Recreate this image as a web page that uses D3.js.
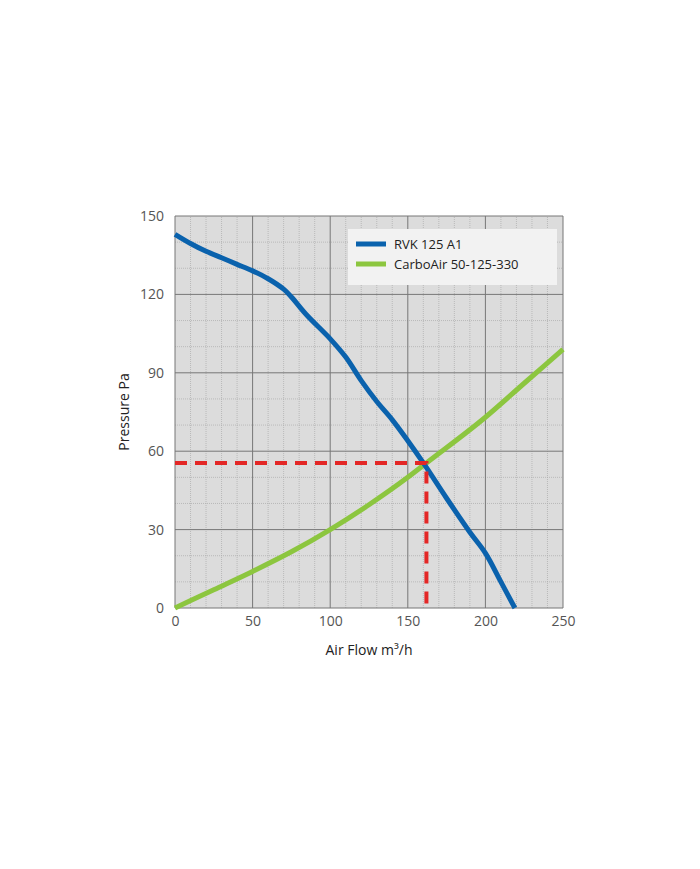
<!DOCTYPE html>
<html><head><meta charset="utf-8">
<script src="https://cdn.jsdelivr.net/npm/d3@7"></script>
<style>body{margin:0;background:#fff;font-family:"Open Sans",sans-serif;}</style>
</head><body>
<div id="chart"></div>
<script>
var blueX = [0, 10, 20, 30, 40, 50, 60, 70, 75, 85, 100, 110, 120, 130, 140, 150, 160, 175, 190, 200, 210, 219];
var blueY = [143, 139.5, 136.5, 134, 131.5, 129, 126, 122, 119, 112, 103, 96, 87, 79, 72, 64, 55.5, 42, 29, 21, 10, 0];
var greenX = [0, 25, 50, 75, 100, 125, 150, 162, 200, 225, 250];
var greenY = [0, 7, 14, 21.5, 30, 39.5, 50, 55.5, 73, 86, 99];
var opX = 162, opY = 55.5;
var xTicks = [0, 50, 100, 150, 200, 250];
var yTicks = [0, 30, 60, 90, 120, 150];
var seriesNames = ["RVK 125 A1", "CarboAir 50-125-330"];
var colors = ["#0a62ad", "#8cc63f"];

var svg = d3.select("#chart").append("svg").attr("width", 700).attr("height", 869);
var x = d3.scaleLinear().domain([0, 250]).range([175, 563]);
var y = d3.scaleLinear().domain([0, 150]).range([608, 216]);

svg.append("rect").attr("x", x(0)).attr("y", y(150))
    .attr("width", x(250) - x(0)).attr("height", y(0) - y(150)).attr("fill", "#dcdcdc");

var g = svg.append("g");
d3.range(0, 251, 10).forEach(function (v) {
    if (v % 50) g.append("line").attr("x1", x(v)).attr("x2", x(v)).attr("y1", y(0)).attr("y2", y(150))
        .attr("stroke", "#aaa").attr("stroke-width", 0.7).attr("stroke-dasharray", "1,1");
});
d3.range(0, 151, 10).forEach(function (v) {
    if (v % 30) g.append("line").attr("y1", y(v)).attr("y2", y(v)).attr("x1", x(0)).attr("x2", x(250))
        .attr("stroke", "#aaa").attr("stroke-width", 0.7).attr("stroke-dasharray", "1,1");
});
xTicks.forEach(function (v) {
    g.append("line").attr("x1", x(v)).attr("x2", x(v)).attr("y1", y(0)).attr("y2", y(150))
        .attr("stroke", "#777").attr("stroke-width", 1);
});
yTicks.forEach(function (v) {
    g.append("line").attr("y1", y(v)).attr("y2", y(v)).attr("x1", x(0)).attr("x2", x(250))
        .attr("stroke", "#777").attr("stroke-width", 1);
});

var xAxis = svg.append("g").attr("transform", "translate(0," + (y(0) + 5) + ")")
    .call(d3.axisBottom(x).tickValues(xTicks).tickSize(0));
var yAxis = svg.append("g").attr("transform", "translate(" + (x(0) - 8) + ",0)")
    .call(d3.axisLeft(y).tickValues(yTicks).tickSize(0));
[xAxis, yAxis].forEach(function (a) {
    a.select(".domain").remove();
    a.selectAll("text").attr("font-size", 14).attr("fill", "#555").attr("font-family", "Open Sans, sans-serif");
});

svg.append("text").attr("x", (x(0) + x(250)) / 2).attr("y", 655).attr("text-anchor", "middle")
    .attr("font-size", 14).attr("fill", "#222").text("Air Flow m³/h");
svg.append("text").attr("transform", "translate(129," + ((y(0) + y(150)) / 2) + ") rotate(-90)")
    .attr("text-anchor", "middle").attr("font-size", 14).attr("fill", "#222").text("Pressure Pa");

var line = d3.line().curve(d3.curveMonotoneX);
svg.append("path").attr("d", line(greenX.map(function (d, i) { return [x(d), y(greenY[i])]; })))
    .attr("fill", "none").attr("stroke", colors[1]).attr("stroke-width", 5);
svg.append("path").attr("d", d3.line().curve(d3.curveCatmullRom)(blueX.map(function (d, i) { return [x(d), y(blueY[i])]; })))
    .attr("fill", "none").attr("stroke", colors[0]).attr("stroke-width", 5);

svg.append("path").attr("d", "M" + x(0) + "," + y(opY) + "H" + x(opX) + "V" + y(0))
    .attr("fill", "none").attr("stroke", "#e32726").attr("stroke-width", 4).attr("stroke-dasharray", "12,8");

var lg = svg.append("g").attr("transform", "translate(348,229)");
lg.append("rect").attr("width", 209).attr("height", 56).attr("fill", "#f2f2f2");
seriesNames.forEach(function (n, i) {
    lg.append("line").attr("x1", 8).attr("x2", 38).attr("y1", 15 + i * 20).attr("y2", 15 + i * 20)
        .attr("stroke", colors[i]).attr("stroke-width", 5);
    lg.append("text").attr("x", 46).attr("y", 20 + i * 20).attr("font-size", 13).attr("fill", "#222").text(n);
});
</script>
</body></html>
